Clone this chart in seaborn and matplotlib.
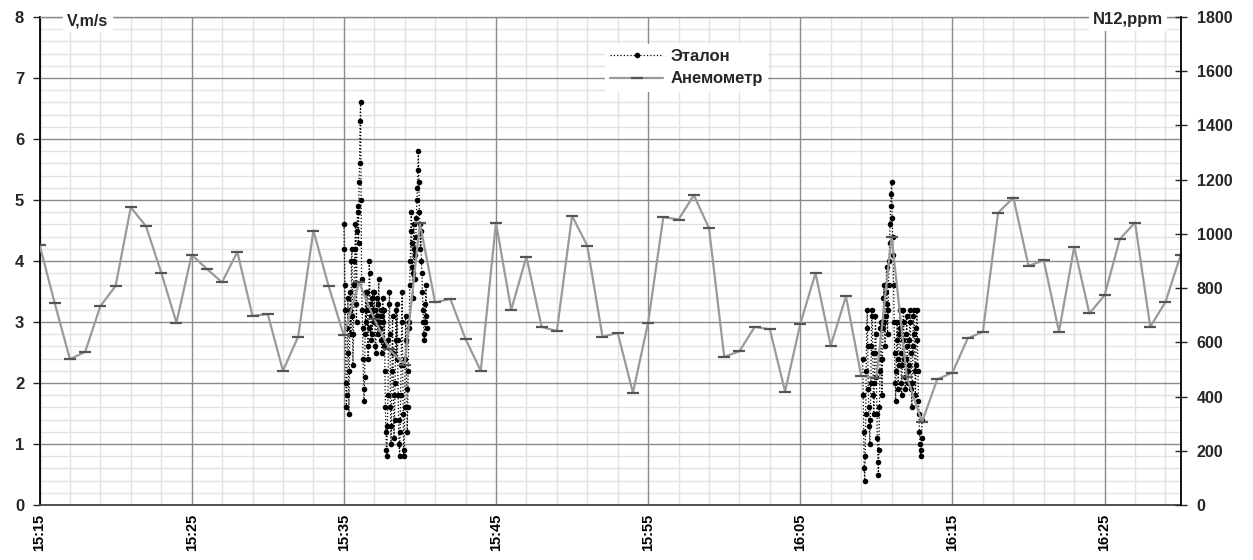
import numpy as np
import pandas as pd
import matplotlib
matplotlib.use("Agg")
import matplotlib.pyplot as plt
import matplotlib.dates as mdates
from matplotlib.ticker import MultipleLocator
import seaborn as sns

# ---------------- data ----------------
start_time = "2000-01-01 15:15:00"
anemometer_v = [4.27, 3.31, 2.39, 2.51, 3.26, 3.59, 4.88, 4.57, 3.81, 2.99,
                4.10, 3.87, 3.65, 4.15, 3.10, 3.13, 2.20, 2.76, 4.50, 3.59,
                2.78, 3.65, 3.05, 2.55, 2.30, 4.62, 3.32, 3.38, 2.72, 2.20,
                4.63, 3.20, 4.07, 2.92, 2.85, 4.74, 4.25, 2.76, 2.82, 1.84,
                2.99, 4.72, 4.68, 5.08, 4.54, 2.43, 2.52, 2.92, 2.88, 1.86,
                2.97, 3.80, 2.61, 3.42, 2.12, 2.08, 4.40, 2.10, 1.36, 2.06,
                2.17, 2.73, 2.84, 4.79, 5.04, 3.92, 4.01, 2.84, 4.23, 3.14,
                3.44, 4.36, 4.63, 2.92, 3.33, 4.10]

etalon1_start = "2000-01-01 15:35:00"
etalon1_v = [4.6, 4.2, 3.6, 3.2, 2.0, 1.6, 1.8, 2.9, 3.4,
             2.5, 1.5, 2.2, 3.2, 3.5, 2.8, 4.0, 4.2, 3.1,
             2.3, 2.8, 3.6, 4.0, 4.2, 4.6, 3.3, 3.0, 4.5, 4.9, 4.8, 4.3,
             5.3, 5.6, 6.3, 6.6, 5.0,
             3.7, 3.2, 2.9, 2.4, 1.9, 1.7, 2.1, 2.8, 3.5, 3.0,
             3.2, 3.5, 2.6, 2.4, 2.9, 4.0, 3.8, 3.3, 2.7, 3.1, 3.4, 2.8, 3.5, 3.2, 3.0,
             3.5, 3.2, 2.6, 2.5, 3.0, 3.4, 3.1, 2.8, 3.3, 3.7, 3.0, 2.9, 3.1, 3.2,
             2.7, 2.5, 3.1, 3.4, 3.0, 2.6, 3.2,
             2.2, 1.6, 1.2, 0.9, 0.8, 1.3, 1.8, 2.7, 3.3, 3.5, 2.8, 1.6, 1.0, 1.3,
             2.2, 3.1, 2.5, 1.8, 1.1, 1.4, 2.0, 2.7, 3.2, 2.4,
             3.3, 2.7, 1.8, 1.4, 1.0, 0.8, 1.2, 1.8, 2.3, 3.0, 3.5, 2.3, 1.5, 0.8,
             0.9, 1.6, 2.4, 3.1, 2.7, 1.9, 1.2, 1.6, 2.2, 2.9,
             3.0, 3.6, 4.0, 4.5, 4.8, 4.3, 3.9, 3.4, 3.8, 4.6, 4.2, 3.7, 4.1, 4.4, 4.7,
             5.0, 5.2, 5.5, 5.8, 5.3, 4.8, 4.6, 4.2, 4.5,
             4.0, 3.8, 3.5, 3.2, 3.0, 2.8, 2.7, 3.0, 3.3, 3.6, 3.1, 2.9]

etalon2_start = "2000-01-01 16:09:06"
etalon2_v = [2.4, 1.8, 1.2, 0.6, 0.4, 0.8, 1.5, 2.2, 2.9, 3.2, 2.6, 1.9,
             1.6, 1.3, 1.0, 1.4, 2.0, 2.6, 3.2, 3.1, 2.5, 1.8, 1.5, 2.0,
             2.5, 3.1, 2.8, 2.1, 1.5, 1.1, 0.7, 0.5, 0.9, 1.6, 2.2, 2.9, 3.0, 2.4, 1.8,
             2.4, 2.9, 3.4, 3.6, 3.0, 2.6, 3.1, 3.5, 3.9, 3.3, 2.8, 3.2, 3.6,
             4.0, 4.3, 4.6, 4.9, 5.1, 5.3, 4.7, 4.4, 4.1,
             3.6, 3.0, 2.5, 2.0, 1.7, 2.2, 2.7, 3.0, 2.4, 1.9, 2.3, 2.8,
             3.2, 2.9, 2.5, 2.0, 1.8, 2.3, 2.7, 3.2, 3.0, 2.4, 2.1, 1.9, 2.4, 2.8,
             3.1, 2.6, 2.2, 2.0,
             2.3, 2.7, 3.2, 3.0, 2.5, 1.9, 1.6, 2.0, 2.6, 3.1, 3.2, 2.8, 2.2, 1.8, 2.3,
             2.9, 3.2, 2.7, 2.2, 1.7, 1.5, 1.2, 1.0, 0.8, 0.9, 1.1, 1.4]

left_ticks = [0, 1, 2, 3, 4, 5, 6, 7, 8]
right_ticks = [0, 200, 400, 600, 800, 1000, 1200, 1400, 1600, 1800]
x_start = "2000-01-01 15:15:00"
x_end = "2000-01-01 16:30:00"

anem = pd.DataFrame({"t": pd.date_range(start_time, periods=len(anemometer_v), freq="1min"),
                     "v": anemometer_v})
et1 = pd.DataFrame({"t": pd.date_range(etalon1_start, periods=len(etalon1_v), freq="2s"),
                    "v": etalon1_v})
et2 = pd.DataFrame({"t": pd.date_range(etalon2_start, periods=len(etalon2_v), freq="2s"),
                    "v": etalon2_v})

# ---------------- style ----------------
sns.set_style("white")
plt.rcParams["font.family"] = ["Liberation Sans", "DejaVu Sans"]
plt.rcParams["font.weight"] = "bold"
FS = 11

fig = plt.figure(figsize=(12.53, 5.6), dpi=100)
ax = fig.add_axes([39.5 / 1253, 1 - 505 / 560, (1180.7 - 39.5) / 1253, (505 - 17) / 560])

sns.lineplot(data=et1, x="t", y="v", ax=ax, color="black", lw=0.9, linestyle=":",
             marker="o", markersize=4.0, markeredgewidth=0, estimator=None,
             label="Эталон", zorder=3)
sns.lineplot(data=et2, x="t", y="v", ax=ax, color="black", lw=0.9, linestyle=":",
             marker="o", markersize=4.0, markeredgewidth=0, estimator=None,
             legend=False, zorder=3)
sns.lineplot(data=anem, x="t", y="v", ax=ax, color="#9a9a9a", lw=1.6,
             marker="_", markersize=9, markeredgewidth=1.6, markeredgecolor="#555555",
             estimator=None, label="Анемометр", zorder=4)

ax.set_xlim(pd.Timestamp(x_start), pd.Timestamp(x_end))
ax.set_ylim(0, 8)
ax.set_yticks(left_ticks)
ax.yaxis.set_minor_locator(MultipleLocator(0.2))
ax.xaxis.set_major_locator(mdates.MinuteLocator(byminute=[5, 15, 25, 35, 45, 55]))
ax.xaxis.set_minor_locator(mdates.MinuteLocator(byminute=range(1, 60, 2)))
ax.xaxis.set_major_formatter(mdates.DateFormatter("%H:%M"))
ax.set_xlabel("")
ax.set_ylabel("")

# minor grid via axis, major grid drawn over it (but under data)
ax.grid(which="minor", color="#e2e2e2", lw=1.0)
ax.grid(which="major", visible=False)
ax.set_axisbelow(True)
for xv in ax.get_xticks():
    ax.axvline(xv, color="#8a8a8a", lw=1.0, zorder=1)
for yv in ax.get_yticks():
    ax.axhline(yv, color="#8a8a8a", lw=1.0, zorder=1)

for lab in ax.get_xticklabels():
    lab.set_rotation(90)
ax.tick_params(axis="x", which="major", direction="out", length=3.5, width=1,
               labelsize=10.5, pad=3, colors="black")
ax.tick_params(axis="y", which="major", direction="out", length=5, width=1,
               labelsize=12, pad=6)
ax.tick_params(which="minor", length=0)
for lab in ax.get_xticklabels() + ax.get_yticklabels():
    lab.set_fontweight("bold")

ax.spines["left"].set_color("black")
ax.spines["left"].set_linewidth(1.3)
ax.spines["bottom"].set_color("#444444")
ax.spines["bottom"].set_linewidth(1.3)
ax.spines["top"].set_color("#8a8a8a")
ax.spines["top"].set_linewidth(1.0)
ax.spines["right"].set_visible(False)

ax2 = ax.twinx()
ax2.set_ylim(0, 1800)
ax2.set_yticks(right_ticks)
ax2.tick_params(axis="y", direction="inout", length=9, width=1, labelsize=FS + 0.5, pad=7)
for lab in ax2.get_yticklabels():
    lab.set_fontweight("bold")
for s in ["top", "left", "bottom"]:
    ax2.spines[s].set_visible(False)
ax2.spines["right"].set_color("black")
ax2.spines["right"].set_linewidth(1.3)
ax2.grid(False)

ax.text((88 - 39.5) / 1141.2, (505 - 20.5) / 488, "V,m/s", transform=ax.transAxes,
        ha="center", va="center", fontsize=11.5, fontweight="bold", zorder=6,
        bbox=dict(facecolor="white", edgecolor="none", pad=3))
ax.text((1163 - 39.5) / 1141.2, (505 - 19.5) / 488, "N12,ppm", transform=ax.transAxes,
        ha="right", va="center", fontsize=12, fontweight="bold", zorder=6,
        bbox=dict(facecolor="white", edgecolor="none", pad=3))

leg = ax.legend(loc="upper left", bbox_to_anchor=(605 / 1253, 1 - 44 / 560),
                bbox_transform=fig.transFigure, frameon=True, fancybox=False,
                facecolor="white", edgecolor="none", framealpha=1,
                fontsize=12, handlelength=3.2, handletextpad=0.45,
                labelspacing=0.45, borderpad=0.3, borderaxespad=0)
for t in leg.get_texts():
    t.set_fontweight("bold")
leg.set_zorder(7)

fig.savefig("out.png", dpi=100)
